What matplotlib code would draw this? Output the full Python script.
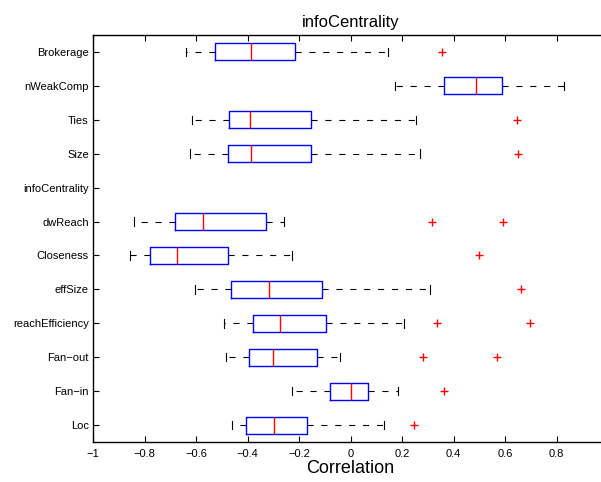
import matplotlib
matplotlib.use('Agg')
import matplotlib.pyplot as plt

plt.rcParams['font.family'] = ['Liberation Sans', 'DejaVu Sans']

# Rows from bottom to top
labels = ['Loc', 'Fan\u2212in', 'Fan\u2212out', 'reachEfficiency', 'effSize', 'Closeness',
          'dwReach', 'infoCentrality', 'Size', 'Ties', 'nWeakComp', 'Brokerage']

# whisker low, q1, median, q3, whisker high (None = no data)
whislo = [-0.462, -0.228, -0.483, -0.493, -0.605, -0.858, -0.842, None, -0.625, -0.615, 0.172, -0.639]
q1 = [-0.407, -0.078, -0.396, -0.377, -0.466, -0.778, -0.680, None, -0.476, -0.471, 0.362, -0.526]
med = [-0.297, 0.001, -0.302, -0.273, -0.318, -0.675, -0.572, None, -0.388, -0.390, 0.488, -0.387]
q3 = [-0.169, 0.068, -0.131, -0.097, -0.110, -0.475, -0.330, None, -0.153, -0.153, 0.589, -0.215]
whishi = [0.131, 0.185, -0.042, 0.206, 0.309, -0.227, -0.260, None, 0.270, 0.255, 0.830, 0.144]
fliers = [[0.245], [0.364], [0.281, 0.567], [0.335, 0.696], [0.664], [0.499],
          [0.317, 0.593], [], [0.651], [0.647], [], [0.356]]

fig = plt.figure(figsize=(6.01, 4.82), dpi=100)
ax = fig.add_axes([93 / 601, 1 - 442 / 482, (608 - 93) / 601, (442 - 35) / 482])

stats, pos = [], []
for i in range(len(labels)):
    if med[i] is None:
        continue
    stats.append(dict(whislo=whislo[i], q1=q1[i], med=med[i], q3=q3[i],
                      whishi=whishi[i], fliers=fliers[i]))
    pos.append(i + 1)

ax.bxp(stats, positions=pos, vert=False, widths=0.5, capwidths=0.25,
       boxprops=dict(color='#0000ff', linewidth=1.0),
       medianprops=dict(color='#ff0000', linewidth=1.0),
       whiskerprops=dict(color='black', linestyle=(0, (5.5, 7)), linewidth=0.8),
       capprops=dict(color='black', linewidth=0.8),
       flierprops=dict(marker='+', markeredgecolor='#ff0000', markersize=5.5,
                       linestyle='none'))

ax.set_xlim(-1, 1)
ax.set_ylim(0.5, 12.5)
ax.set_xticks([-1, -0.8, -0.6, -0.4, -0.2, 0, 0.2, 0.4, 0.6, 0.8])
ax.set_xticklabels(['\u22121', '\u22120.8', '\u22120.6', '\u22120.4', '\u22120.2',
                    '0', '0.2', '0.4', '0.6', '0.8'])
ax.set_yticks(range(1, len(labels) + 1))
ax.set_yticklabels(labels)
ax.tick_params(direction='in', length=4, width=0.8, labelsize=8,
               top=True, right=False)
ax.tick_params(axis='x', pad=5)
ax.tick_params(axis='y', pad=3)
for s in ['top', 'bottom', 'left']:
    ax.spines[s].set_linewidth(1.0)

ax.set_title('infoCentrality', fontsize=12, pad=6)
ax.set_xlabel('Correlation', fontsize=13, labelpad=1)

fig.savefig('out.png', dpi=100)
